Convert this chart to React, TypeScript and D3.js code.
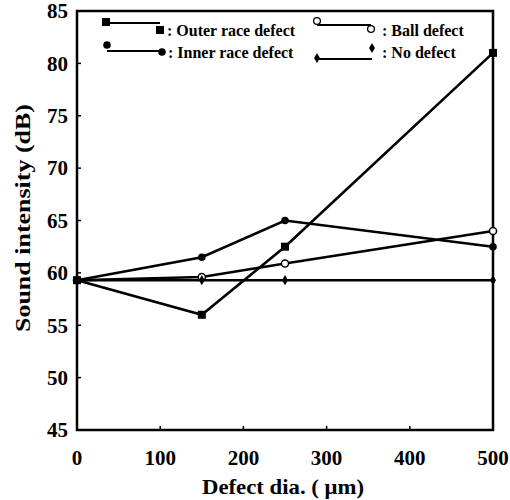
import { useEffect, useRef } from "react";
import * as d3 from "d3";

// defect diameters (um) and measured sound intensity (dB)
const defectDia = [0, 150, 250, 500];
const outerRace = [59.3, 56, 62.5, 81];
const ballDefect = [59.3, 59.6, 60.9, 64];
const innerRace = [59.3, 61.5, 65, 62.5];
const noDefect = [59.3, 59.3, 59.3, 59.3];

const xTicks = [0, 100, 200, 300, 400, 500];
const yTicks = [45, 50, 55, 60, 65, 70, 75, 80, 85];

const FONT = "'Liberation Serif', 'Times New Roman', serif";

const App = () => {
  const ref = useRef<SVGSVGElement | null>(null);

  const W = 510;
  const H = 500;
  const plot = { left: 77, right: 493, top: 11, bottom: 430 };

  useEffect(() => {
    const svg = d3.select(ref.current);
    svg.selectAll("*").remove();

    const x = d3.scaleLinear().domain([0, 500]).range([plot.left, plot.right]);
    const y = d3.scaleLinear().domain([45, 85]).range([plot.bottom, plot.top]);

    svg.append("rect").attr("width", W).attr("height", H).attr("fill", "#fff");

    // frame
    svg
      .append("rect")
      .attr("x", plot.left)
      .attr("y", plot.top)
      .attr("width", plot.right - plot.left)
      .attr("height", plot.bottom - plot.top)
      .attr("fill", "none")
      .attr("stroke", "#000")
      .attr("stroke-width", 2.5);

    // inward ticks
    svg
      .append("g")
      .selectAll("line")
      .data(yTicks.slice(1, -1))
      .enter()
      .append("line")
      .attr("x1", plot.left)
      .attr("x2", plot.left + 4)
      .attr("y1", (d) => y(d))
      .attr("y2", (d) => y(d))
      .attr("stroke", "#000")
      .attr("stroke-width", 1.5);
    svg
      .append("g")
      .selectAll("line")
      .data(xTicks.slice(1, -1))
      .enter()
      .append("line")
      .attr("x1", (d) => x(d))
      .attr("x2", (d) => x(d))
      .attr("y1", plot.bottom)
      .attr("y2", plot.bottom - 4)
      .attr("stroke", "#000")
      .attr("stroke-width", 1.5);

    // tick labels
    svg
      .append("g")
      .selectAll("text")
      .data(yTicks)
      .enter()
      .append("text")
      .attr("x", plot.left - 9)
      .attr("y", (d) => y(d))
      .attr("dy", "0.35em")
      .attr("text-anchor", "end")
      .attr("font-family", FONT)
      .attr("font-weight", "bold")
      .attr("font-size", 21)
      .text((d) => d);
    svg
      .append("g")
      .selectAll("text")
      .data(xTicks)
      .enter()
      .append("text")
      .attr("x", (d) => x(d))
      .attr("y", 458)
      .attr("dy", "0.35em")
      .attr("text-anchor", "middle")
      .attr("font-family", FONT)
      .attr("font-weight", "bold")
      .attr("font-size", 21)
      .text((d) => d);

    // axis titles
    svg
      .append("text")
      .attr("x", 283)
      .attr("y", 487)
      .attr("dy", "0.35em")
      .attr("text-anchor", "middle")
      .attr("font-family", FONT)
      .attr("font-weight", "bold")
      .attr("font-size", 21)
      .attr("textLength", 162)
      .attr("lengthAdjust", "spacingAndGlyphs")
      .text("Defect dia. ( μm)");
    svg
      .append("text")
      .attr("transform", "translate(22,218) rotate(-90)")
      .attr("dy", "0.35em")
      .attr("text-anchor", "middle")
      .attr("font-family", FONT)
      .attr("font-weight", "bold")
      .attr("font-size", 22)
      .attr("textLength", 228)
      .attr("lengthAdjust", "spacingAndGlyphs")
      .text("Sound intensity (dB)");

    const series = [
      { name: "outer", values: outerRace, symbol: d3.symbolSquare, size: 64, open: false },
      { name: "ball", values: ballDefect, symbol: d3.symbolCircle, size: 40, open: true },
      { name: "inner", values: innerRace, symbol: d3.symbolCircle, size: 45, open: false },
      { name: "none", values: noDefect, symbol: d3.symbolDiamond, size: 30, open: false },
    ];

    const line = d3
      .line<number>()
      .x((_, i) => x(defectDia[i]))
      .y((d) => y(d));

    series.forEach((s) => {
      svg
        .append("path")
        .attr("d", line(s.values))
        .attr("fill", "none")
        .attr("stroke", "#000")
        .attr("stroke-width", 2.6);
    });

    series.forEach((s) => {
      svg
        .append("g")
        .selectAll("path")
        .data(s.values)
        .enter()
        .append("path")
        .attr("d", d3.symbol().type(s.symbol).size(s.size)())
        .attr("transform", (d, i) => `translate(${x(defectDia[i])},${y(d)})`)
        .attr("fill", s.open ? "#fff" : "#000")
        .attr("stroke", "#000")
        .attr("stroke-width", s.open ? 1.5 : 0);
    });

    // legend
    const legendItems = [
      { label: ": Outer race defect", symbol: d3.symbolSquare, size: 64, open: false, p1: [106, 22], p2: [160, 30], ly: 23, tx: 167, ty: 30 },
      { label: ": Ball defect", symbol: d3.symbolCircle, size: 36, open: true, p1: [317, 21], p2: [371, 29], ly: 25, tx: 382, ty: 30 },
      { label: ": Inner race defect", symbol: d3.symbolCircle, size: 45, open: false, p1: [107, 45], p2: [162, 52], ly: 51, tx: 168, ty: 52 },
      { label: ": No defect", symbol: d3.symbolDiamond, size: 30, open: false, p1: [317, 58], p2: [372, 48], ly: 59, tx: 382, ty: 52 },
    ];
    const legend = svg.append("g").attr("class", "legend");
    legendItems.forEach((it) => {
      legend
        .append("line")
        .attr("x1", it.p1[0])
        .attr("x2", it.p2[0])
        .attr("y1", it.ly)
        .attr("y2", it.ly)
        .attr("stroke", "#000")
        .attr("stroke-width", 1.8);
      [it.p1, it.p2].forEach((p) => {
        legend
          .append("path")
          .attr("d", d3.symbol().type(it.symbol).size(it.size)())
          .attr("transform", `translate(${p[0]},${p[1]})`)
          .attr("fill", it.open ? "#fff" : "#000")
          .attr("stroke", "#000")
          .attr("stroke-width", it.open ? 1.3 : 0);
      });
      legend
        .append("text")
        .attr("x", it.tx)
        .attr("y", it.ty)
        .attr("dy", "0.35em")
        .attr("font-family", FONT)
        .attr("font-weight", "bold")
        .attr("font-size", 16)
        .text(it.label);
    });
  }, []);

  return (
    <svg
      ref={ref}
      width={W}
      height={H}
      style={{ position: "absolute", left: 0, top: 0 }}
    />
  );
};

export default App;
